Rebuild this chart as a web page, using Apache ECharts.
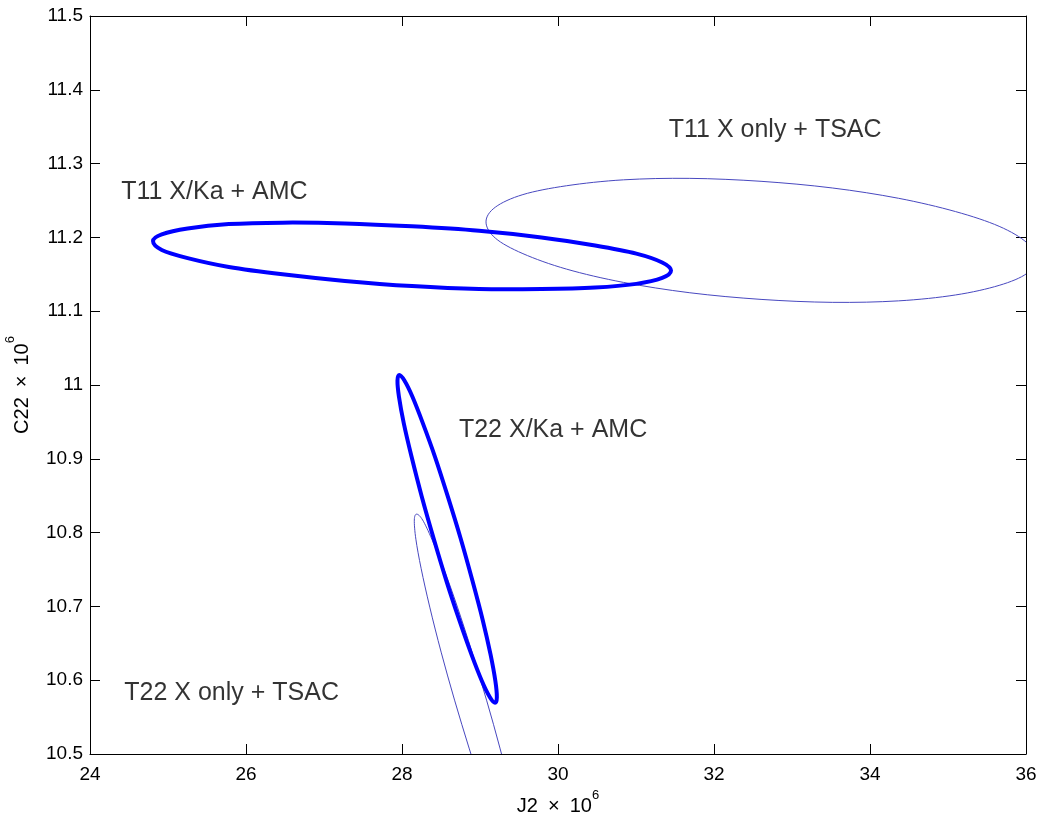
<!DOCTYPE html>
<html>
<head>
<meta charset="utf-8">
<script src="https://cdn.jsdelivr.net/npm/echarts@6/dist/echarts.min.js"></script>
<style>html,body{margin:0;padding:0;background:#fff;}#c{width:1042px;height:822px;}</style>
</head>
<body>
<div id="c"></div>
<script>
// Axis ticks
const xTicks = [24, 26, 28, 30, 32, 34, 36];
const yTicks = [10.5, 10.6, 10.7, 10.8, 10.9, 11, 11.1, 11.2, 11.3, 11.4, 11.5];

// T11 X/Ka + AMC (thick) — closed contour points
const t11KaJ2  = [28.128, 27.268, 26.468, 25.780, 25.252, 24.920, 24.808, 24.920, 25.252, 25.780, 26.468, 27.268, 28.128, 28.988, 29.788, 30.476, 31.004, 31.336, 31.449, 31.336, 31.004, 30.476, 29.788, 28.988];
const t11KaC22 = [11.134, 11.141, 11.150, 11.160, 11.172, 11.183, 11.195, 11.204, 11.212, 11.218, 11.220, 11.219, 11.215, 11.209, 11.200, 11.189, 11.178, 11.166, 11.155, 11.145, 11.137, 11.132, 11.130, 11.130];

// T11 X only + TSAC (thin)
const t11XJ2  = [32.603, 31.690, 30.840, 30.110, 29.550, 29.197, 29.077, 29.197, 29.550, 30.110, 30.840, 31.690, 32.603, 33.516, 34.366, 35.096, 35.656, 36.009, 36.129, 36.009, 35.656, 35.096, 34.366, 33.516];
const t11XC22 = [11.116, 11.125, 11.139, 11.157, 11.178, 11.199, 11.221, 11.241, 11.258, 11.270, 11.278, 11.280, 11.276, 11.267, 11.253, 11.235, 11.215, 11.193, 11.171, 11.151, 11.135, 11.122, 11.114, 11.112];

// T22 X/Ka + AMC (thick)
const t22KaJ2  = [28.752, 28.587, 28.422, 28.268, 28.134, 28.031, 27.966, 27.942, 27.961, 28.023, 28.122, 28.253, 28.406, 28.571, 28.736, 28.890, 29.024, 29.127, 29.193, 29.216, 29.197, 29.135, 29.036, 28.905];
const t22KaC22 = [10.792, 10.849, 10.903, 10.948, 10.984, 11.006, 11.0135, 11.006, 10.984, 10.948, 10.903, 10.849, 10.792, 10.734, 10.681, 10.635, 10.599, 10.577, 10.5695, 10.577, 10.599, 10.635, 10.681, 10.734];

// T22 X only + TSAC (thin)
const t22XJ2  = [29.570, 29.600, 29.580, 29.513, 29.402, 29.256, 29.084, 28.898, 28.711, 28.536, 28.383, 28.265, 28.188, 28.158, 28.178, 28.246, 28.356, 28.502, 28.674, 28.860, 29.047, 29.223, 29.375, 29.493];
const t22XC22 = [10.321, 10.330, 10.355, 10.395, 10.447, 10.508, 10.573, 10.638, 10.699, 10.751, 10.791, 10.817, 10.825, 10.817, 10.791, 10.751, 10.699, 10.638, 10.573, 10.508, 10.447, 10.395, 10.355, 10.330];

// Annotations
const labelTexts = ['T11 X only + TSAC', 'T11 X/Ka + AMC', 'T22 X/Ka + AMC', 'T22 X only + TSAC'];
const labelJ2    = [31.42, 24.40, 28.73, 24.44];
const labelC22   = [11.346, 11.262, 10.939, 10.583];

const zip = (a, b) => a.map((v, i) => [v, b[i]]);
const FONT = "'Liberation Sans', Arial, Helvetica, sans-serif";
const THICK = '#0000ff';
const THIN = '#4848c0';

const chart = echarts.init(document.getElementById('c'), null, {renderer: 'canvas'});

const baseX = {
  type: 'value', min: xTicks[0], max: xTicks[xTicks.length - 1], interval: 2,
  axisLine: {show: true, lineStyle: {color: '#000', width: 1}},
  axisTick: {show: true, inside: true, length: 10, lineStyle: {color: '#000'}},
  splitLine: {show: false}
};
const baseY = {
  type: 'value', min: yTicks[0], max: yTicks[yTicks.length - 1], interval: 0.1,
  axisLine: {show: true, lineStyle: {color: '#000', width: 1}},
  axisTick: {show: true, inside: true, length: 10, lineStyle: {color: '#000'}},
  splitLine: {show: false}
};

// Closed smooth contour through the data points (Catmull-Rom), positioned via api.coord
const contourSeries = (pts, color, width) => ({
  type: 'custom', data: pts, clip: true, silent: true, z: width > 2 ? 3 : 2,
  encode: {x: 0, y: 1},
  renderItem: (params, api) => {
    if (params.dataIndex !== 0) return null;
    const p = pts.map(d => api.coord(d));
    const n = p.length;
    let d = 'M' + p[0][0] + ' ' + p[0][1];
    for (let i = 0; i < n; i++) {
      const p0 = p[(i - 1 + n) % n], p1 = p[i], p2 = p[(i + 1) % n], p3 = p[(i + 2) % n];
      const c1x = p1[0] + (p2[0] - p0[0]) / 6, c1y = p1[1] + (p2[1] - p0[1]) / 6;
      const c2x = p2[0] - (p3[0] - p1[0]) / 6, c2y = p2[1] - (p3[1] - p1[1]) / 6;
      d += ' C' + c1x + ' ' + c1y + ' ' + c2x + ' ' + c2y + ' ' + p2[0] + ' ' + p2[1];
    }
    d += ' Z';
    return {
      type: 'path',
      shape: {pathData: d},
      style: {fill: 'none', stroke: color, lineWidth: width, lineJoin: 'round'}
    };
  }
});

const nameRich = {
  a: {fontSize: 20, fontFamily: FONT, color: '#000', verticalAlign: 'bottom', lineHeight: 28},
  s: {fontSize: 13, fontFamily: FONT, color: '#000', verticalAlign: 'top', lineHeight: 28}
};

chart.setOption({
  animation: false,
  backgroundColor: '#fff',
  grid: {left: 90, right: 16, top: 16, bottom: 68, containLabel: false, outerBoundsMode: 'none'},
  xAxis: [
    Object.assign({}, baseX, {
      position: 'bottom',
      axisLabel: {show: true, color: '#000', fontSize: 19, fontFamily: FONT, margin: 11},
      name: '{a|J2\u2002×\u200210}{s|6}', nameLocation: 'middle', nameGap: 33,
      nameTextStyle: {rich: nameRich}
    }),
    Object.assign({}, baseX, {position: 'top', axisLabel: {show: false}})
  ],
  yAxis: [
    Object.assign({}, baseY, {
      position: 'left',
      axisLabel: {show: true, color: '#000', fontSize: 19, fontFamily: FONT, margin: 7,
        formatter: v => String(+v.toFixed(1))},
      name: '{a|C22\u2002×\u200210}{s|6}', nameLocation: 'middle', nameGap: 58,
      nameTextStyle: {rich: nameRich}
    }),
    Object.assign({}, baseY, {position: 'right', axisLabel: {show: false}})
  ],
  series: [
    contourSeries(zip(t11XJ2, t11XC22), THIN, 1),
    contourSeries(zip(t22XJ2, t22XC22), THIN, 1),
    contourSeries(zip(t11KaJ2, t11KaC22), THICK, 4),
    contourSeries(zip(t22KaJ2, t22KaC22), THICK, 4),
    {
      type: 'scatter', symbolSize: 0, silent: true, z: 5,
      data: labelTexts.map((t, i) => ({value: [labelJ2[i], labelC22[i]], name: t})),
      label: {show: true, position: 'inside', align: 'left', verticalAlign: 'middle',
        formatter: p => p.name, color: '#000', fontSize: 25, fontFamily: FONT}
    }
  ]
});
</script>
</body>
</html>
